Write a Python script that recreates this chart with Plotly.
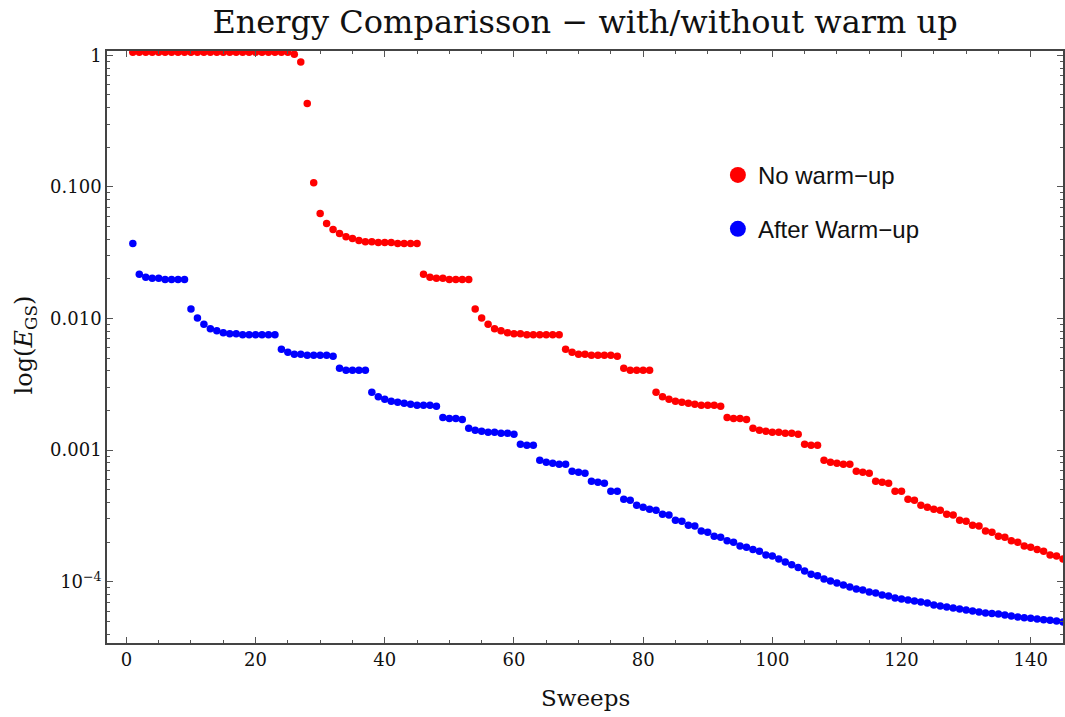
import plotly.graph_objects as go

sweeps = list(range(1, 146))

after_warmup = [
    0.0372, 0.0217, 0.0206, 0.0202, 0.0202, 0.0198, 0.0198, 0.0198, 0.0198,
    0.0118, 0.0101, 0.00904, 0.00837, 0.00808, 0.00780, 0.00767, 0.00767, 0.00753,
    0.00753, 0.00753, 0.00753, 0.00753, 0.00753,
    0.00584, 0.00554, 0.00535, 0.00535, 0.00526, 0.00526, 0.00526, 0.00526, 0.00517,
    0.00419, 0.00404, 0.00404, 0.00404, 0.00404,
    0.002754, 0.002549, 0.002435, 0.002351, 0.002311, 0.002271, 0.002232, 0.002194,
    0.002194, 0.002194, 0.002156,
    0.001772, 0.001742, 0.001742, 0.001712,
    0.001467, 0.001417, 0.001392, 0.001368, 0.001368, 0.001344, 0.001344, 0.001321,
    0.001110, 0.001091, 0.001091,
    0.000839, 0.000810, 0.000796, 0.000782, 0.000782,
    0.000692, 0.000680, 0.000668,
    0.000581, 0.000571, 0.000561,
    0.000488, 0.000488,
    0.000424, 0.000417,
    0.000382, 0.000369, 0.000356, 0.000350,
    0.000326, 0.000321,
    0.000294, 0.000289,
    0.000269, 0.000265,
    0.000243, 0.000238,
    0.000222, 0.000218,
    0.000205, 0.000200,
    0.000187, 0.000183,
    0.000176, 0.000171, 0.000160, 0.0001567, 0.0001487, 0.0001411, 0.0001346, 0.0001284,
    0.0001208, 0.0001140, 0.0001110, 0.0001048, 0.0001012, 0.0000977, 0.0000944, 0.0000912,
    0.0000880, 0.0000865, 0.0000835, 0.0000821, 0.0000793, 0.0000779, 0.0000752, 0.0000739,
    0.0000726, 0.0000714, 0.0000701, 0.0000689, 0.0000665, 0.0000654, 0.0000643, 0.0000632,
    0.0000621, 0.0000610, 0.0000599, 0.0000589, 0.0000579, 0.0000574, 0.0000569, 0.0000559,
    0.0000549, 0.0000540, 0.0000533, 0.0000528, 0.0000521, 0.0000515, 0.0000510, 0.0000503,
    0.0000494,
]

no_warmup = [
    1.054, 1.054, 1.054, 1.054, 1.054, 1.054, 1.054, 1.054, 1.054, 1.054,
    1.054, 1.054, 1.054, 1.054, 1.054, 1.054, 1.054, 1.054, 1.054, 1.054,
    1.054, 1.054, 1.054, 1.054, 1.054,
    1.018, 0.890, 0.430, 0.1077, 0.0629, 0.0528, 0.0475, 0.0442, 0.0419, 0.0405,
    0.0391, 0.0384, 0.0384, 0.0378, 0.0378, 0.0378, 0.0372, 0.0372, 0.0372, 0.0372,
    0.0217, 0.0206, 0.0202, 0.0202, 0.0198, 0.0198, 0.0198, 0.0198,
    0.0118, 0.0101, 0.00904, 0.00837, 0.00808, 0.00780, 0.00767, 0.00767, 0.00753,
    0.00753, 0.00753, 0.00753, 0.00753, 0.00753,
    0.00584, 0.00554, 0.00535, 0.00535, 0.00526, 0.00526, 0.00526, 0.00526, 0.00517,
    0.00419, 0.00404, 0.00404, 0.00404, 0.00404,
    0.002754, 0.002549, 0.002435, 0.002351, 0.002311, 0.002271, 0.002232, 0.002194,
    0.002194, 0.002194, 0.002156,
    0.001772, 0.001742, 0.001742, 0.001712,
    0.001467, 0.001417, 0.001392, 0.001368, 0.001368, 0.001344, 0.001344, 0.001321,
    0.001110, 0.001091, 0.001091,
    0.000839, 0.000810, 0.000796, 0.000782, 0.000782,
    0.000692, 0.000680, 0.000668,
    0.000581, 0.000571, 0.000561,
    0.000488, 0.000488,
    0.000424, 0.000417,
    0.000382, 0.000369, 0.000356, 0.000350,
    0.000326, 0.000321,
    0.000294, 0.000289,
    0.000269, 0.000265,
    0.000243, 0.000238,
    0.000222, 0.000218,
    0.000205, 0.000200,
    0.000187, 0.000183,
    0.000176, 0.000171, 0.000160, 0.0001567, 0.0001487,
]

y_tick_vals = [1, 0.1, 0.01, 0.001, 0.0001]
y_tick_text = ["1", "0.100", "0.010", "0.001", "10<sup>−4</sup>"]
y_minor_vals = [k * 10.0 ** e for e in range(-5, 0) for k in range(2, 10)]
x_tick_vals = list(range(0, 141, 20))
x_minor_vals = [v for v in range(5, 146, 5) if v % 20 != 0]

RED = "#ff0000"
BLUE = "#0000ff"
SERIF = "DejaVu Serif, Liberation Serif, serif"
SANS = "Liberation Sans, Arial, sans-serif"

fig = go.Figure()
fig.add_trace(go.Scatter(x=sweeps, y=no_warmup, mode="markers",
                         marker=dict(color=RED, size=7.5), showlegend=False))
fig.add_trace(go.Scatter(x=sweeps, y=after_warmup, mode="markers",
                         marker=dict(color=BLUE, size=7.5), showlegend=False))
# legend entries
fig.add_trace(go.Scatter(x=[None], y=[None], mode="markers", name="No warm−up",
                         marker=dict(color=RED, size=16), legend="legend"))
fig.add_trace(go.Scatter(x=[None], y=[None], mode="markers", name="After Warm−up",
                         marker=dict(color=BLUE, size=16), legend="legend2"))

axis_common = dict(
    showgrid=False, zeroline=False, showline=True, linecolor="#444444", linewidth=1.5,
    mirror="allticks", ticks="inside", tickcolor="#555555", ticklen=6, tickwidth=1.2,
)

fig.update_xaxes(
    range=[-3, 145], tickmode="array", tickvals=x_tick_vals,
    tickfont=dict(family=SERIF, size=18, color="#111111"),
    minor=dict(tickvals=x_minor_vals, ticks="inside", ticklen=3, tickcolor="#555555", tickwidth=1),
    **axis_common,
)
fig.update_yaxes(
    type="log", range=[-4.465, 0.0326], tickmode="array",
    tickvals=y_tick_vals, ticktext=y_tick_text,
    tickfont=dict(family=SERIF, size=18, color="#111111"),
    minor=dict(tickvals=y_minor_vals, ticks="inside", ticklen=3, tickcolor="#555555", tickwidth=1),
    **axis_common,
)

fig.update_layout(
    width=1065, height=717,
    margin=dict(l=107, r=0, t=51, b=74),
    plot_bgcolor="white", paper_bgcolor="white",
    title=dict(text="Energy Comparisson − with/without warm up",
               font=dict(family=SERIF, size=32, color="#111111"),
               x=0.5, xref="paper", xanchor="center",
               y=1 - 22 / 717, yref="container", yanchor="middle"),
    legend=dict(x=0.639, y=0.790, xanchor="left", yanchor="middle",
                font=dict(family=SANS, size=24, color="#111111"),
                bgcolor="rgba(0,0,0,0)"),
    legend2=dict(x=0.639, y=0.699, xanchor="left", yanchor="middle",
                 font=dict(family=SANS, size=24, color="#111111"),
                 bgcolor="rgba(0,0,0,0)"),
    annotations=[
        dict(text="Sweeps", xref="paper", yref="paper", x=0.5, y=-0.093,
             xanchor="center", yanchor="middle", showarrow=False,
             font=dict(family=SERIF, size=23, color="#111111")),
        dict(text="log(<i>E</i><sub>GS</sub>)", xref="paper", yref="paper",
             x=-0.0856, y=0.503, xanchor="center", yanchor="middle",
             textangle=-90, showarrow=False,
             font=dict(family=SERIF, size=24, color="#111111")),
    ],
)

fig.write_html("out.html")
